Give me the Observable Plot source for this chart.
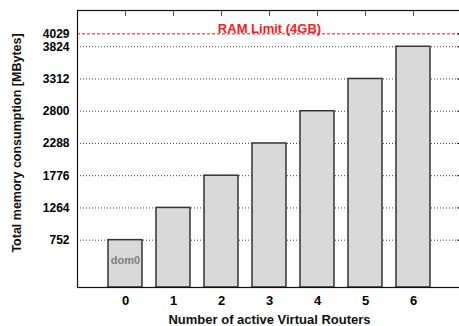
<!DOCTYPE html>
<html>
<head>
<meta charset="utf-8">
<script src="https://cdn.jsdelivr.net/npm/d3@7"></script>
<script src="https://cdn.jsdelivr.net/npm/@observablehq/plot@0.6"></script>
<style>
  html, body { margin: 0; padding: 0; background: #fff; overflow: hidden; }
  svg { font-family: "Liberation Sans", Arial, Helvetica, sans-serif; }
</style>
</head>
<body>
<div id="chart"></div>
<script>
const categories = ["0", "1", "2", "3", "4", "5", "6"];
const memory = [752, 1264, 1776, 2288, 2800, 3312, 3824];
const yTicks = [752, 1264, 1776, 2288, 2800, 3312, 3824, 4029];
const gridValues = [752, 1264, 1776, 2288, 2800, 3312, 3824];
const ramLimit = 4029;
const ramLabel = "RAM Limit (4GB)";
const barLabel = "dom0";
const xTitle = "Number of active Virtual Routers";
const yTitle = "Total memory consumption [MBytes]";

const data = categories.map((c, i) => ({ cat: c, value: memory[i] }));

const chart = Plot.plot({
  width: 459,
  height: 326,
  marginLeft: 77,
  marginRight: -2,
  marginTop: 10,
  marginBottom: 39,
  style: { fontFamily: "Liberation Sans, Arial, sans-serif", fontWeight: "bold", fontSize: "13px", overflow: "visible" },
  x: { type: "band", domain: categories, paddingInner: 0.29, paddingOuter: 0.645, label: null },
  y: { domain: [0, 4400], label: null },
  marks: [
    Plot.ruleY(gridValues, { stroke: "#444", strokeWidth: 1, strokeDasharray: "1,2" }),
    Plot.barY(data, { x: "cat", y: "value", fill: "#d9d9d9", stroke: "#333", strokeWidth: 1.5 }),
    Plot.ruleY([ramLimit], { stroke: "#e8141a", strokeWidth: 1, strokeDasharray: "3,2" }),
    Plot.text([ramLabel], { x: () => "3", y: () => ramLimit, text: d => d, fill: "#ff1a1a", fontSize: 13, fontWeight: "bold", lineAnchor: "bottom", dy: -1 }),
    Plot.text([barLabel], { x: () => "0", frameAnchor: "bottom", text: d => d, fill: "#808080", fontSize: 11, fontWeight: "bold", dy: -24 }),
    Plot.axisY({ ticks: yTicks, tickSize: 0, tickPadding: 8, tickFormat: d3.format("d"), fontSize: 12, fontWeight: "bold", label: null }),
    Plot.axisY({ anchor: "right", ticks: yTicks, tickSize: -5, tickFormat: () => "", label: null, stroke: "#222" }),
    Plot.axisX({ anchor: "bottom", tickSize: 0, tickPadding: 8, fontSize: 13, fontWeight: "bold", label: null }),
    Plot.axisX({ anchor: "top", tickSize: -5, tickFormat: () => "", label: null, stroke: "#555" }),
    Plot.frame({ stroke: "#111", strokeWidth: 1.2 }),
    Plot.text([xTitle], { frameAnchor: "bottom", text: d => d, dy: 36, fontSize: 13, fontWeight: "bold", fill: "#111" }),
    Plot.text([yTitle], { frameAnchor: "left", textAnchor: "middle", text: d => d, rotate: -90, dx: -61, dy: -6, fontSize: 12.5, fontWeight: "bold", fill: "#111" })
  ]
});
document.getElementById("chart").appendChild(chart);
</script>
</body>
</html>
